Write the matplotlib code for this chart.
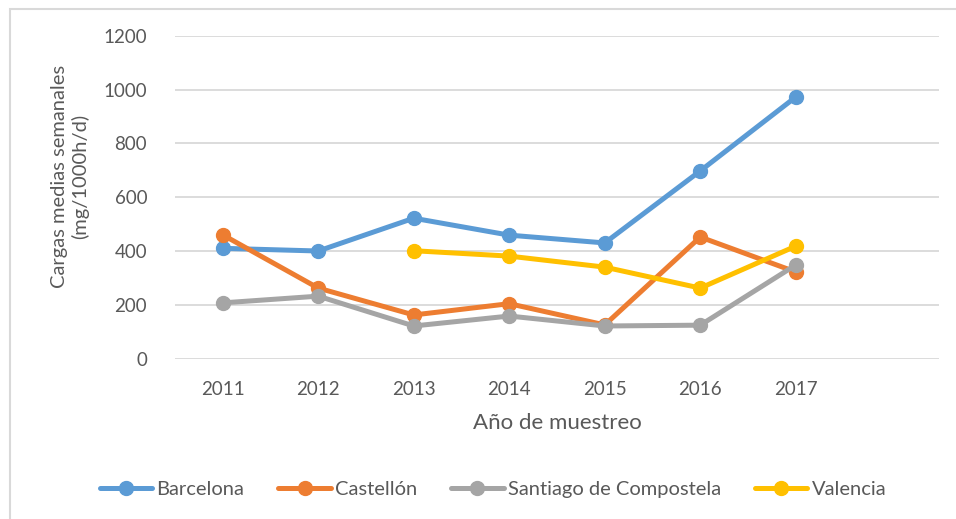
import matplotlib
matplotlib.use("Agg")
import matplotlib.pyplot as plt
from matplotlib.patches import Rectangle
from matplotlib.lines import Line2D

years = ["2011", "2012", "2013", "2014", "2015", "2016", "2017"]
barcelona = [410, 400, 522, 459, 430, 698, 973]
castellon = [460, 262, 162, 204, 125, 452, 322]
santiago = [207, 232, 121, 158, 121, 124, 348]
valencia = [None, None, 401, 381, 340, 262, 418]
series_names = ["Barcelona", "Castellón", "Santiago de Compostela", "Valencia"]
colors = ["#5B9BD5", "#ED7D31", "#A5A5A5", "#FFC000"]
yticks = [0, 200, 400, 600, 800, 1000, 1200]

plt.rcParams['font.family'] = ['Lato', 'DejaVu Sans']
txt = "#595959"

fig = plt.figure(figsize=(9.56, 5.19), dpi=100)
fig.patches.append(Rectangle((10/956, -0.01), 1.1, 1 - 9/519 + 0.01, transform=fig.transFigure,
                             fill=False, edgecolor="#D9D9D9", linewidth=1.5))
ax = fig.add_axes([175/956, 1 - 358.5/519, (939 - 175)/956, (358.5 - 36)/519])

LW = 3.6
MS = 10
x = list(range(len(years)))
for name, vals, c in zip(series_names, [barcelona, castellon, santiago, valencia], colors):
    xs = [xi for xi, v in zip(x, vals) if v is not None]
    ys = [v for v in vals if v is not None]
    ax.plot(xs, ys, color=c, linewidth=LW, marker='o', markersize=MS, label=name,
            solid_capstyle='round', solid_joinstyle='round', zorder=3)

ax.set_xlim(-0.5, 7.5)
ax.set_ylim(0, 1200)
ax.set_yticks(yticks)
ax.set_yticklabels([str(t) for t in yticks], fontsize=13.5, color=txt)
ax.set_xticks(x)
ax.set_xticklabels(years, fontsize=13.5, color=txt)
ax.tick_params(axis='both', length=0)
ax.tick_params(axis='y', pad=20)
ax.tick_params(axis='x', pad=16)
ax.grid(axis='y', color="#D9D9D9", linewidth=1.3)
ax.set_axisbelow(True)
for s in ax.spines.values():
    s.set_visible(False)

ax.set_xlabel("Año de muestreo", fontsize=16, color=txt, labelpad=11)
fig.text(70/956, 1 - 176/519, "Cargas medias semanales\n(mg/1000h/d)", rotation=90,
         ha='center', va='center', fontsize=14.5, color=txt, linespacing=1.15)

handles = [Line2D([], [], color=c, linewidth=LW, marker='o', markersize=MS,
                  solid_capstyle='round') for c in colors]
fig.legend(handles, series_names, loc='center', bbox_to_anchor=(493/956, 1 - 489/519),
           ncol=4, frameon=False, fontsize=14.5, labelcolor=txt, handlelength=2.6,
           handletextpad=0.2, columnspacing=1.7)

fig.savefig("out.png", dpi=100)
